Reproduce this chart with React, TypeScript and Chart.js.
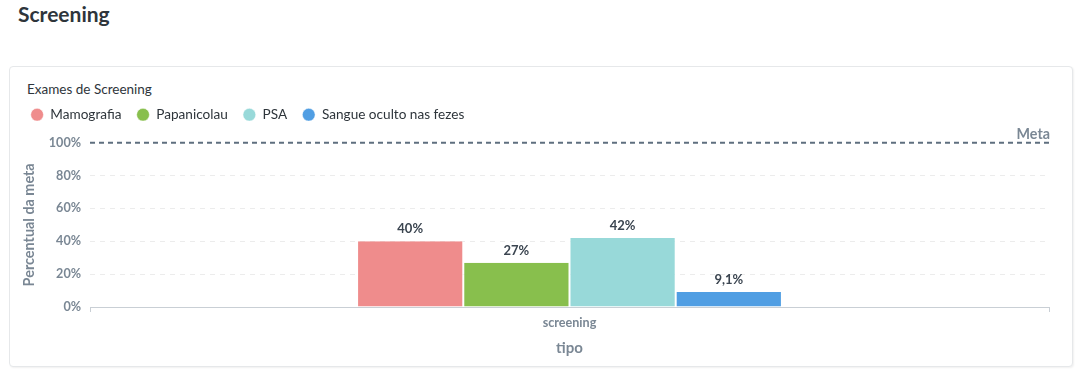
import React, { useEffect, useRef } from "react";
import { Chart, registerables } from "chart.js";

Chart.register(...registerables);

const categories = ["screening"];
const seriesNames = ["Mamografia", "Papanicolau", "PSA", "Sangue oculto nas fezes"];
const seriesValues = [[40], [27], [42], [9.1]];
const seriesColors = ["#EF8C8C", "#88BF4D", "#98D9D9", "#509EE3"];
const yTicks = [0, 20, 40, 60, 80, 100];
const goalValue = 100;
const goalLabel = "Meta";

const FONT = "Lato, 'Noto Sans', sans-serif";
const TICK_COLOR = "#7a8794";
const fmtPct = (v: number) => String(v).replace(".", ",") + "%";

export default function App() {
  const ref = useRef<HTMLCanvasElement | null>(null);

  useEffect(() => {
    if (!ref.current) return;

    const legendSpacing = {
      id: "legendSpacing",
      beforeInit(chart: any) {
        const orig = chart.legend.fit;
        chart.legend.fit = function () {
          orig.bind(chart.legend)();
          this.height += 11.2;
        };
      },
    };

    const goalLine = {
      id: "goalLine",
      afterDatasetsDraw(chart: any) {
        const { ctx, chartArea } = chart;
        const y = chart.scales.y.getPixelForValue(goalValue);
        ctx.save();
        ctx.strokeStyle = "#5f6f7f";
        ctx.lineWidth = 2;
        ctx.setLineDash([5, 4]);
        ctx.beginPath();
        ctx.moveTo(chartArea.left, y);
        ctx.lineTo(chartArea.right, y);
        ctx.stroke();
        ctx.setLineDash([]);
        ctx.fillStyle = TICK_COLOR;
        ctx.font = `bold 14.3px ${FONT}`;
        ctx.textAlign = "right";
        ctx.textBaseline = "bottom";
        ctx.fillText(goalLabel, chartArea.right + 1, y - 1);
        ctx.restore();
      },
    };

    const valueLabels = {
      id: "valueLabels",
      afterDatasetsDraw(chart: any) {
        const { ctx } = chart;
        ctx.save();
        ctx.font = `bold 13px ${FONT}`;
        ctx.fillStyle = "#3b4550";
        ctx.textAlign = "center";
        ctx.textBaseline = "middle";
        chart.data.datasets.forEach((ds: any, i: number) => {
          const meta = chart.getDatasetMeta(i);
          meta.data.forEach((bar: any, j: number) => {
            ctx.fillText(fmtPct(ds.data[j]), bar.x, bar.y - 12);
          });
        });
        ctx.restore();
      },
    };

    const chart = new Chart(ref.current, {
      type: "bar",
      data: {
        labels: categories,
        datasets: seriesNames.map((name, i) => ({
          label: name,
          data: seriesValues[i],
          backgroundColor: seriesColors[i],
          borderColor: "#ffffff",
          borderWidth: { left: 1, right: 1, top: 0, bottom: 0 },
          borderSkipped: false,
          categoryPercentage: 0.443,
          barPercentage: 1,
        })),
      },
      options: {
        animation: false,
        responsive: false,
        devicePixelRatio: 1,
        layout: { padding: { left: 5.5, right: 23, top: 25.7, bottom: 4 } },
        plugins: {
          title: { display: false },
          tooltip: { enabled: false },
          legend: {
            display: true,
            position: "top",
            align: "start",
            labels: {
              usePointStyle: true,
              pointStyle: "circle",
              pointStyleWidth: 12.8,
              boxHeight: 9,
              padding: 15.2,
              color: "#2e353b",
              font: { family: FONT, size: 13.6 },
            },
          },
        },
        scales: {
          x: {
            offset: true,
            grid: {
              display: true,
              drawOnChartArea: false,
              drawTicks: true,
              tickLength: 5,
              color: "#c9cfd5",
            },
            border: { display: true, color: "#c9cfd5" },
            ticks: {
              color: TICK_COLOR,
              padding: 3,
              font: { family: FONT, size: 12.6, weight: "bold" },
            },
            title: {
              display: true,
              text: "tipo",
              color: TICK_COLOR,
              padding: { top: 4, bottom: 5 },
              font: { family: FONT, size: 15, weight: "bold" },
            },
            afterFit(scale: any) {
              scale.height = 55;
            },
          },
          y: {
            min: 0,
            max: 100,
            afterBuildTicks(scale: any) {
              scale.ticks = yTicks.map((v) => ({ value: v }));
            },
            grid: {
              drawTicks: false,
              color: (c: any) => (c.tick && c.tick.value > 0 && c.tick.value < 100 ? "#ececec" : "rgba(0,0,0,0)"),
              lineWidth: 1,
            },
            border: { display: false, dash: [5, 5] },
            ticks: {
              color: TICK_COLOR,
              padding: 9,
              font: { family: FONT, size: 12.6, weight: "bold" },
              callback: (v: any) => v + "%",
            },
            title: {
              display: true,
              text: "Percentual da meta",
              color: TICK_COLOR,
              padding: { top: 5, bottom: 4 },
              font: { family: FONT, size: 14.4, weight: "bold" },
            },
            afterFit(scale: any) {
              scale.width = 74.5;
            },
          },
        },
      },
      plugins: [legendSpacing, goalLine, valueLabels],
    } as any);

    return () => chart.destroy();
  }, []);

  return (
    <div style={{ position: "absolute", left: 0, top: 0, width: 1090, height: 373, background: "#fff", fontFamily: FONT }}>
      <div style={{ position: "absolute", left: 18, top: 1, fontSize: 21, fontWeight: 700, color: "#2e353b", lineHeight: "26px" }}>
        Screening
      </div>
      <div
        style={{
          position: "absolute",
          left: 9,
          top: 66,
          width: 1062,
          height: 299,
          border: "1px solid #e6e8ea",
          borderRadius: 4,
          boxShadow: "1px 1px 2px rgba(0,0,0,0.06)",
          background: "#fff",
        }}
      >
        <div style={{ position: "absolute", left: 17, top: 14, fontSize: 13.5, color: "#2e353b", lineHeight: "16px" }}>
          Exames de Screening
        </div>
        <canvas ref={ref} width={1062} height={299} style={{ position: "absolute", left: 0, top: 0, width: 1062, height: 299 }} />
      </div>
    </div>
  );
}
